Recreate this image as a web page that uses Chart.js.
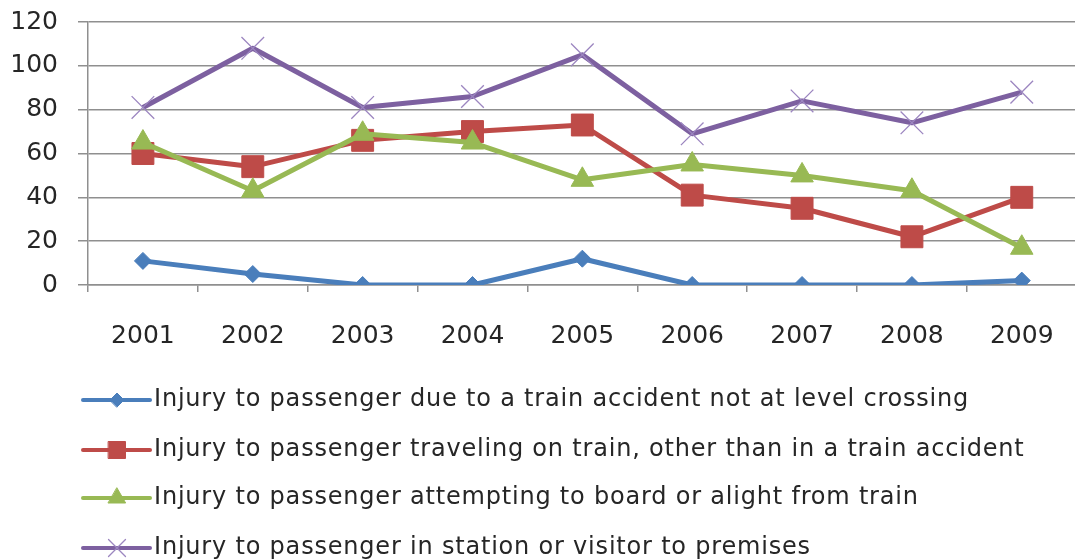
<!DOCTYPE html>
<html>
<head>
<meta charset="utf-8">
<script src="https://cdn.jsdelivr.net/npm/chart.js@4.4.1/dist/chart.umd.min.js"></script>
<style>
  html, body { margin: 0; padding: 0; background: #ffffff; overflow: hidden; }
  #wrap { width: 1075px; height: 560px; overflow: hidden; position: relative; }
  canvas { display: block; }
</style>
</head>
<body>
<div id="wrap"><canvas id="c" width="1094" height="560"></canvas></div>
<script>
const years = ['2001', '2002', '2003', '2004', '2005', '2006', '2007', '2008', '2009'];
const seriesNames = [
  'Injury to passenger due to a train accident not at level crossing',
  'Injury to passenger traveling on train, other than in a train accident',
  'Injury to passenger attempting to board or alight from train',
  'Injury to passenger in station or visitor to premises'
];
const trainAccident = [11, 5, 0, 0, 12, 0, 0, 0, 2];
const travelingOnTrain = [60, 54, 66, 70, 73, 41, 35, 22, 40];
const boardOrAlight = [65, 43, 69, 65, 48, 55, 50, 43, 17];
const inStation = [81, 108, 81, 86, 105, 69, 84, 74, 88];
const yTicks = [0, 20, 40, 60, 80, 100, 120];

const FONT = "'DejaVu Sans', 'Open Sans', sans-serif";
const GRID = '#8f8f8f';
const TEXT = '#262626';

const styles = [
  { color: '#4A7EBB', pointStyle: 'rectRot', radius: 8.5, legendRadius: 7, pbw: 1 },
  { color: '#BE4B48', pointStyle: 'rect', radius: 15.5, legendRadius: 12, pbw: 1 },
  { color: '#98B954', pointStyle: 'triangle', radius: 13, legendRadius: 10, pbw: 1 },
  { color: '#7D60A0', pointStyle: 'crossRot', radius: 16, legendRadius: 12, pbw: 1.3, pointColor: '#9C86C0' }
];
const seriesData = [trainAccident, travelingOnTrain, boardOrAlight, inStation];

const datasets = seriesData.map((d, i) => ({
  label: seriesNames[i],
  data: d,
  borderColor: styles[i].color,
  backgroundColor: styles[i].color,
  borderWidth: 5,
  borderJoinStyle: 'round',
  tension: 0,
  pointStyle: styles[i].pointStyle,
  pointRadius: styles[i].radius,
  pointHoverRadius: styles[i].radius,
  pointBackgroundColor: styles[i].pointColor || styles[i].color,
  pointBorderColor: styles[i].pointColor || styles[i].color,
  pointBorderWidth: styles[i].pbw,
  order: 4 - i
}));

const legendPlugin = {
  id: 'customLegend',
  afterDraw(chart) {
    const ctx = chart.ctx;
    const rowsY = [400, 450, 498, 548];
    const x0 = 83, x1 = 150, cx = 117, tx = 154;
    ctx.save();
    chart.data.datasets.forEach((ds, i) => {
      const y = rowsY[i];
      ctx.strokeStyle = ds.borderColor;
      ctx.lineWidth = 4;
      ctx.lineCap = 'round';
      ctx.beginPath();
      ctx.moveTo(x0, y);
      ctx.lineTo(x1, y);
      ctx.stroke();
      ctx.fillStyle = ds.pointBackgroundColor;
      ctx.strokeStyle = ds.pointBorderColor;
      ctx.lineWidth = ds.pointBorderWidth;
      Chart.helpers.drawPoint(ctx, {
        pointStyle: ds.pointStyle,
        rotation: 0,
        radius: styles[i].legendRadius,
        borderWidth: ds.pointBorderWidth
      }, cx, y);
      ctx.fillStyle = TEXT;
      ctx.font = '24px ' + FONT;
      if ('letterSpacing' in ctx) ctx.letterSpacing = '0.8px';
      ctx.textBaseline = 'middle';
      ctx.textAlign = 'left';
      ctx.fillText(ds.label, tx, y);
      if ('letterSpacing' in ctx) ctx.letterSpacing = '0px';
    });
    ctx.restore();
  }
};

new Chart(document.getElementById('c'), {
  type: 'line',
  data: { labels: years, datasets },
  options: {
    responsive: false,
    animation: false,
    devicePixelRatio: 1,
    layout: { padding: { top: 22, left: 0, right: 0, bottom: 0 } },
    plugins: {
      legend: { display: false },
      tooltip: { enabled: false }
    },
    scales: {
      x: {
        offset: true,
        afterFit(s) { s.height = 275; s.paddingLeft = 0; s.paddingRight = 0; },
        grid: {
          offset: true,
          drawOnChartArea: false,
          drawTicks: true,
          tickLength: 7,
          color: GRID,
          lineWidth: 1.5
        },
        border: { display: true, color: GRID, width: 1.5 },
        ticks: {
          padding: 29,
          color: TEXT,
          font: { family: FONT, size: 25 },
          maxRotation: 0,
          autoSkip: false
        }
      },
      y: {
        min: 0,
        max: 120,
        afterFit(s) { s.width = 88; s.paddingTop = 0; s.paddingBottom = 0; },
        afterBuildTicks(s) { s.ticks = yTicks.map(v => ({ value: v })); },
        grid: {
          color: GRID,
          lineWidth: 1.5,
          drawTicks: true,
          tickLength: 10
        },
        border: { display: true, color: GRID, width: 1.5 },
        ticks: {
          padding: 20,
          color: TEXT,
          font: { family: FONT, size: 25 }
        }
      }
    }
  },
  plugins: [legendPlugin]
});
</script>
</body>
</html>
